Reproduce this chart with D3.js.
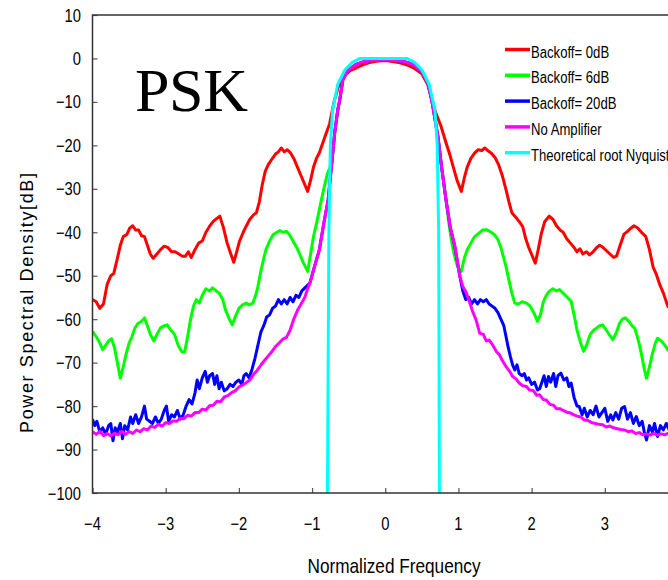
<!DOCTYPE html>
<html>
<head>
<meta charset="utf-8">
<script src="https://cdn.jsdelivr.net/npm/d3@7"></script>
<style>
  body { margin: 0; background: #fff; }
  svg { display: block; }
  text { font-family: "Liberation Sans", Arial, sans-serif; fill: #000; }
</style>
</head>
<body>
<svg width="668" height="580"></svg>
<script>
// tick values for both axes
var xTicks = [-4, -3, -2, -1, 0, 1, 2, 3];
var yTicks = [10, 0, -10, -20, -30, -40, -50, -60, -70, -80, -90, -100];

var legendNames = ['Backoff= 0dB', 'Backoff= 6dB', 'Backoff= 20dB', 'No Amplifier', 'Theoretical root Nyquist'];
var legendColors = ['#ff0000', '#00ff00', '#0000ff', '#ff00ff', '#00ffff'];

// [normalized frequency, dB]
var magentaLeft = [[-4.00,-85.9],[-3.95,-86.5],[-3.90,-85.8],[-3.85,-86.8],[-3.80,-86.3],[-3.75,-86.9],[-3.70,-86.2],[-3.65,-86.6],[-3.60,-85.8],[-3.55,-86.5],[-3.50,-85.9],[-3.45,-86.3],[-3.40,-85.5],[-3.35,-85.9],[-3.30,-85.2],[-3.25,-85.5],[-3.20,-84.6],[-3.15,-84.9],[-3.10,-84.2],[-3.05,-84.6],[-3.00,-83.8],[-2.95,-84],[-2.90,-83.4],[-2.85,-83.5],[-2.80,-82.8],[-2.75,-82.9],[-2.70,-82.1],[-2.65,-82.3],[-2.60,-81.5],[-2.55,-81.5],[-2.50,-80.7],[-2.45,-80.9],[-2.40,-79.9],[-2.35,-79.8],[-2.30,-78.9],[-2.25,-79],[-2.20,-77.9],[-2.15,-77.6],[-2.10,-76.9],[-2.05,-76.5],[-2.00,-75.6],[-1.95,-75.2],[-1.90,-74.6],[-1.85,-74],[-1.80,-72.7],[-1.75,-71.8],[-1.70,-70.6],[-1.65,-69.5],[-1.60,-68.5],[-1.55,-67.5],[-1.50,-66.3],[-1.45,-65.5],[-1.40,-64.6],[-1.35,-64.2],[-1.30,-62.5],[-1.25,-60],[-1.20,-58],[-1.15,-56.5],[-1.10,-55],[-1.06,-53]];
var magentaCore = [[-1.03,-51.7],[-0.96,-47.5],[-0.90,-44],[-0.84,-38],[-0.78,-32.5],[-0.73,-24],[-0.69,-17],[-0.65,-12],[-0.62,-9.4],[-0.58,-5],[-0.52,-3],[-0.45,-2],[-0.40,-1.4],[-0.30,-0.8],[-0.20,-0.5],[-0.10,-0.3],[0,-0.3],[0.10,-0.4],[0.20,-0.6],[0.30,-0.9],[0.40,-1.6],[0.50,-3],[0.58,-5.5],[0.64,-10],[0.68,-14],[0.72,-18],[0.77,-25],[0.83,-32.5],[0.89,-39],[0.95,-43.2],[1.02,-50.2]];
var magentaRight = [[1.06,-52.5],[1.11,-54],[1.16,-56.5],[1.20,-58.5],[1.24,-60.1],[1.29,-63.2],[1.34,-63.5],[1.38,-65],[1.42,-64.8],[1.47,-66],[1.52,-67.5],[1.56,-68.2],[1.60,-69.5],[1.65,-70.9],[1.70,-72],[1.74,-73.2],[1.79,-73.8],[1.83,-74.7],[1.88,-75.3],[1.93,-75.5],[1.97,-76.3],[2.02,-76.4],[2.07,-77.5],[2.11,-77.4],[2.16,-78.5],[2.20,-78.6],[2.25,-79.6],[2.30,-79.8],[2.34,-80.6],[2.39,-80.6],[2.43,-81],[2.48,-81.4],[2.53,-81.6],[2.58,-82],[2.62,-82.3],[2.67,-82.5],[2.72,-83.2],[2.77,-83.3],[2.82,-83.8],[2.87,-84],[2.92,-84.2],[2.97,-84.3],[3.02,-84.8],[3.07,-84.6],[3.12,-85],[3.17,-85.2],[3.22,-85.4],[3.27,-85.5],[3.32,-85.9],[3.37,-85.7],[3.42,-86.3],[3.47,-86.1],[3.52,-86.6],[3.57,-86.4],[3.62,-86.7],[3.67,-86.3],[3.72,-86.7],[3.77,-86.4],[3.82,-86.6],[3.87,-86.2],[3.93,-86.5],[4.0,-86.4]];

var redLeft = [[-4.00,-55.5],[-3.95,-56],[-3.90,-57.5],[-3.85,-56.5],[-3.80,-52],[-3.75,-50],[-3.71,-49.5],[-3.66,-46],[-3.62,-43],[-3.58,-41],[-3.53,-40.5],[-3.49,-39],[-3.45,-38.5],[-3.41,-39.5],[-3.37,-39.5],[-3.33,-40.8],[-3.29,-41],[-3.25,-43],[-3.21,-45],[-3.17,-46],[-3.12,-45],[-3.07,-44],[-3.02,-43.2],[-2.97,-43.5],[-2.92,-44.5],[-2.87,-44.5],[-2.82,-45],[-2.77,-45.5],[-2.73,-45.5],[-2.69,-44.5],[-2.65,-45.8],[-2.60,-44],[-2.55,-42.5],[-2.50,-42],[-2.45,-40],[-2.40,-38.6],[-2.35,-37.5],[-2.30,-36.8],[-2.26,-36.3],[-2.21,-39],[-2.16,-42.5],[-2.11,-45],[-2.07,-46.9],[-2.03,-44.5],[-1.99,-42],[-1.94,-40],[-1.90,-38.6],[-1.85,-37],[-1.80,-36],[-1.76,-35.5],[-1.72,-33],[-1.68,-29],[-1.64,-26],[-1.60,-24.5],[-1.55,-23.2],[-1.50,-22],[-1.46,-21.5],[-1.42,-20.6],[-1.38,-21.5],[-1.34,-21],[-1.30,-21.6],[-1.25,-23],[-1.20,-25],[-1.15,-27],[-1.10,-29],[-1.06,-30.6],[-1.02,-28],[-0.98,-25],[-0.94,-23]];
var redCore = [[-0.90,-21.7],[-0.83,-18.3],[-0.76,-15],[-0.70,-10],[-0.64,-6.5],[-0.56,-4],[-0.48,-2.8],[-0.40,-2.2],[-0.30,-1.4],[-0.20,-0.9],[-0.10,-0.6],[0,-0.5],[0.10,-0.7],[0.20,-1],[0.30,-1.5],[0.40,-2.3],[0.50,-3.5],[0.58,-6],[0.64,-9.5],[0.69,-12.5],[0.76,-15.5],[0.83,-19.4]];
var redRight = [[0.88,-22],[0.93,-25],[0.98,-28],[1.04,-30.6],[1.08,-27.5],[1.12,-25],[1.17,-23],[1.22,-21.8],[1.27,-21],[1.32,-21.2],[1.36,-20.6],[1.40,-21.2],[1.45,-21.8],[1.50,-22.8],[1.55,-24.5],[1.60,-27],[1.65,-30.2],[1.69,-33],[1.73,-35.5],[1.78,-36.5],[1.83,-37.5],[1.88,-38.8],[1.92,-41.5],[1.96,-43.5],[2.01,-45.5],[2.05,-47.1],[2.09,-44],[2.13,-40.5],[2.18,-37.5],[2.24,-36.3],[2.29,-37],[2.34,-38.5],[2.39,-39.5],[2.43,-40],[2.48,-41.5],[2.53,-42.5],[2.58,-43.5],[2.62,-44.5],[2.66,-43.8],[2.70,-45],[2.75,-44.5],[2.79,-45.2],[2.84,-44.5],[2.89,-43.5],[2.93,-43],[2.97,-43.4],[3.02,-44.2],[3.07,-45],[3.12,-45.8],[3.16,-45.5],[3.21,-43],[3.26,-40.5],[3.31,-39.8],[3.36,-39],[3.40,-38.5],[3.45,-39],[3.50,-40],[3.56,-41],[3.61,-44],[3.66,-48],[3.70,-49.5],[3.75,-52],[3.80,-54],[3.86,-57],[3.92,-58],[4.0,-60]];

var greenLeft = [[-4.00,-62.8],[-3.95,-64],[-3.90,-65.5],[-3.86,-67],[-3.82,-66],[-3.78,-65],[-3.74,-64.5],[-3.70,-66.5],[-3.66,-70],[-3.62,-73.6],[-3.58,-71],[-3.54,-68],[-3.50,-65.5],[-3.46,-64],[-3.42,-62],[-3.38,-61],[-3.33,-60.5],[-3.29,-59.7],[-3.25,-61.5],[-3.21,-63.5],[-3.16,-65],[-3.12,-63.5],[-3.07,-62],[-3.02,-61.5],[-2.98,-61.3],[-2.93,-62.5],[-2.88,-63.5],[-2.83,-66],[-2.78,-67.5],[-2.74,-67.5],[-2.70,-64],[-2.66,-60],[-2.62,-57],[-2.58,-55.5],[-2.54,-56.3],[-2.50,-54.5],[-2.45,-53],[-2.40,-53.5],[-2.36,-52.8],[-2.31,-53.5],[-2.27,-54],[-2.22,-55.5],[-2.18,-58],[-2.13,-60],[-2.09,-61.3],[-2.05,-59.5],[-2.00,-57.5],[-1.95,-56.7],[-1.90,-56.3],[-1.86,-56.7],[-1.81,-56.3],[-1.77,-54.5],[-1.74,-52.5],[-1.70,-49],[-1.66,-46],[-1.63,-44],[-1.58,-42],[-1.53,-40.5],[-1.48,-40],[-1.44,-39.6],[-1.40,-40],[-1.35,-39.8],[-1.31,-40.5],[-1.26,-42],[-1.21,-43.5],[-1.17,-45],[-1.12,-47],[-1.06,-49],[-1.02,-45],[-0.98,-41],[-0.94,-38],[-0.90,-34.8],[-0.84,-30],[-0.79,-26.5]];
var greenRight = [[0.87,-38],[0.90,-41.5],[0.94,-45],[0.99,-48],[1.04,-49],[1.08,-46],[1.12,-44],[1.17,-42.5],[1.22,-41],[1.28,-40.2],[1.33,-39.5],[1.38,-39.4],[1.43,-39.8],[1.49,-40.5],[1.54,-41.7],[1.58,-43.5],[1.62,-46],[1.65,-47.9],[1.69,-51],[1.73,-54],[1.77,-56.3],[1.82,-56.5],[1.87,-56],[1.93,-56.3],[1.98,-57],[2.03,-58.5],[2.08,-60.5],[2.12,-59],[2.16,-56],[2.20,-54.5],[2.24,-53.6],[2.29,-53],[2.34,-53.5],[2.38,-53.2],[2.43,-54],[2.49,-55],[2.54,-55.9],[2.58,-59],[2.62,-62.5],[2.67,-65.5],[2.71,-67.4],[2.75,-66],[2.80,-63.5],[2.85,-62.5],[2.89,-62],[2.93,-61.5],[2.97,-61.3],[3.02,-62.5],[3.07,-63.8],[3.11,-64.7],[3.16,-63],[3.20,-61],[3.24,-60],[3.28,-59.7],[3.33,-60.5],[3.37,-61.5],[3.41,-62.1],[3.46,-65],[3.50,-68],[3.54,-71.5],[3.57,-73.6],[3.61,-71],[3.65,-68],[3.69,-65.5],[3.72,-64.4],[3.77,-65],[3.82,-66],[3.86,-67],[3.93,-68],[4.0,-69]];

var blueLeft = [[-4.00,-83],[-3.97,-84.5],[-3.94,-83.5],[-3.90,-86],[-3.86,-85],[-3.82,-86.5],[-3.78,-84.5],[-3.75,-84],[-3.72,-88],[-3.69,-85],[-3.66,-86],[-3.62,-84],[-3.59,-87.5],[-3.56,-84.5],[-3.52,-85.5],[-3.48,-82.5],[-3.45,-84],[-3.41,-82],[-3.37,-84],[-3.33,-82.5],[-3.29,-80],[-3.26,-83],[-3.22,-83.5],[-3.18,-84],[-3.14,-82.5],[-3.10,-84],[-3.06,-83],[-3.02,-81],[-2.99,-80],[-2.96,-83.5],[-2.92,-82],[-2.88,-82.5],[-2.84,-81],[-2.80,-83],[-2.76,-82],[-2.72,-80],[-2.68,-78.5],[-2.64,-79.5],[-2.60,-77],[-2.57,-74],[-2.54,-76],[-2.50,-73.5],[-2.46,-72],[-2.43,-74.5],[-2.40,-73],[-2.36,-72.5],[-2.33,-75],[-2.30,-73],[-2.27,-76],[-2.24,-74.5],[-2.20,-76.5],[-2.16,-76],[-2.12,-75],[-2.08,-75.5],[-2.04,-74.5],[-2.00,-74],[-1.96,-75],[-1.93,-73],[-1.90,-72.5],[-1.86,-73.5],[-1.82,-71.5],[-1.78,-69],[-1.74,-66],[-1.70,-63],[-1.66,-61.5],[-1.62,-59.5],[-1.58,-59],[-1.54,-57.5],[-1.50,-57],[-1.46,-55.5],[-1.42,-56.5],[-1.38,-55.5],[-1.34,-56.5],[-1.30,-55],[-1.26,-56],[-1.22,-54.5],[-1.18,-55],[-1.14,-53.5],[-1.08,-52.5]];
var blueRight = [[1.06,-53.5],[1.10,-55.5],[1.14,-55],[1.18,-56.5],[1.22,-55.5],[1.26,-56.5],[1.30,-55.5],[1.34,-56],[1.38,-55.5],[1.42,-56.5],[1.46,-57],[1.50,-57.5],[1.54,-58.5],[1.58,-60],[1.62,-61.5],[1.65,-64],[1.68,-66.5],[1.71,-68.6],[1.74,-70.5],[1.77,-71.7],[1.80,-70.5],[1.83,-72.5],[1.87,-73],[1.90,-72.5],[1.93,-74],[1.96,-73.5],[2.00,-75],[2.04,-74.5],[2.08,-76.3],[2.11,-76],[2.14,-74.5],[2.17,-73],[2.20,-75.5],[2.23,-73.2],[2.26,-74.5],[2.30,-72.5],[2.33,-75.5],[2.36,-73],[2.40,-72.4],[2.44,-74],[2.48,-73.5],[2.51,-75.5],[2.54,-74.7],[2.58,-78],[2.62,-80],[2.65,-80.1],[2.69,-82],[2.72,-80.5],[2.76,-82.5],[2.80,-81],[2.84,-82],[2.88,-80],[2.92,-82.5],[2.96,-81.5],[3.00,-80.5],[3.04,-83.5],[3.08,-82],[3.11,-83.2],[3.15,-81.5],[3.19,-83],[3.23,-80.5],[3.27,-80.1],[3.31,-83],[3.35,-81.5],[3.39,-84],[3.43,-82.4],[3.47,-84.5],[3.51,-83.5],[3.54,-86],[3.57,-87.8],[3.61,-84.5],[3.65,-86],[3.68,-84],[3.72,-87],[3.76,-84.5],[3.80,-85.5],[3.84,-84],[3.88,-85.5],[3.94,-86],[4.0,-86.5]];

var cyanLine = [[-0.79,-100],[-0.77,-40],[-0.75,-20],[-0.72,-12],[-0.65,-6],[-0.55,-2.6],[-0.45,-0.9],[-0.35,0],[0.30,0],[0.40,-0.9],[0.50,-2.6],[0.60,-6],[0.68,-12],[0.71,-20],[0.73,-40],[0.74,-100]];

// green and blue share the main lobe with the no-amplifier curve
function coreBetween(lo, hi) {
    return magentaCore.filter(function(d) { return d[0] > lo && d[0] < hi; });
}

var series = [
    redLeft.concat(redCore, redRight),
    greenLeft.concat(coreBetween(-0.76, 0.87), greenRight),
    blueLeft.concat(coreBetween(-1.08, 1.06), blueRight),
    magentaLeft.concat(magentaCore, magentaRight),
    cyanLine
];

var svg = d3.select('svg');

var x = d3.scaleLinear().domain([-4, 4]).range([92.5, 678]);
var y = d3.scaleLinear().domain([-100, 10]).range([493, 15]);

// narrow look of the original font: squeeze text horizontally
var squeeze = 0.82;
function narrowText(g, px, py, size, anchor, str) {
    return g.append('text')
        .attr('transform', 'translate(' + px + ',' + py + ') scale(' + squeeze + ',1)')
        .attr('text-anchor', anchor)
        .style('font-size', size + 'px')
        .text(str);
}

svg.append('clipPath').attr('id', 'plot')
    .append('rect')
    .attr('x', x(-4)).attr('y', y(10))
    .attr('width', x(4) - x(-4)).attr('height', y(-100) - y(10));

var line = d3.line()
    .x(function(d) { return x(d[0]); })
    .y(function(d) { return y(d[1]); });

//curves
svg.append('g').attr('clip-path', 'url(#plot)')
    .selectAll('path')
    .data(series)
    .enter()
    .append('path')
    .attr('d', line)
    .attr('fill', 'none')
    .attr('stroke', function(d, i) { return legendColors[i]; })
    .attr('stroke-width', 3)
    .attr('stroke-linejoin', 'round');

//axes with inward ticks
svg.append('g')
    .attr('transform', 'translate(' + x(-4) + ',0)')
    .call(d3.axisRight(y).tickValues(yTicks).tickSize(5).tickFormat(''));
svg.append('g')
    .attr('transform', 'translate(0,' + y(-100) + ')')
    .call(d3.axisTop(x).tickValues(xTicks).tickSize(5).tickFormat(''));
svg.selectAll('.domain').remove();
svg.selectAll('.tick line').attr('stroke', '#555').attr('stroke-width', 1.2);

//frame lines: left, top, bottom
svg.append('path')
    .attr('d', 'M' + x(4) + ',' + y(10) + 'H' + x(-4) + 'V' + y(-100) + 'H' + x(4))
    .attr('fill', 'none')
    .attr('stroke', '#333')
    .attr('stroke-width', 1.5);

function minus(d) { return d < 0 ? '\u2212' + (-d) : '' + d; }

//tick labels
var labels = svg.append('g');
yTicks.forEach(function(d) {
    narrowText(labels, 81, y(d) + 6.5, 18, 'end', minus(d));
});
xTicks.forEach(function(d) {
    narrowText(labels, x(d), 530, 18, 'middle', minus(d));
});

//axis titles
narrowText(svg, 394, 573, 21, 'middle', 'Normalized Frequency');

svg.append('text')
    .attr('transform', 'translate(33,303) rotate(-90)')
    .attr('text-anchor', 'middle')
    .attr('textLength', 260)
    .style('font-size', '18px')
    .text('Power Spectral Density[dB]');

//big label
svg.append('text')
    .attr('x', 135)
    .attr('y', 111)
    .attr('textLength', 113)
    .style('font-size', '62px')
    .style('font-family', '"Liberation Serif", "DejaVu Serif", serif')
    .text('PSK');

//legend
var legend = svg.append('g').selectAll('g')
    .data(legendNames)
    .enter()
    .append('g')
    .attr('transform', function(d, i) { return 'translate(505,' + (49.5 + i * 25.8) + ')'; });

legend.append('line')
    .attr('x1', 0).attr('x2', 25)
    .attr('stroke', function(d, i) { return legendColors[i]; })
    .attr('stroke-width', 3.5);

legend.each(function(d) {
    narrowText(d3.select(this), 26, 8, 16, 'start', d);
});
</script>
</body>
</html>
